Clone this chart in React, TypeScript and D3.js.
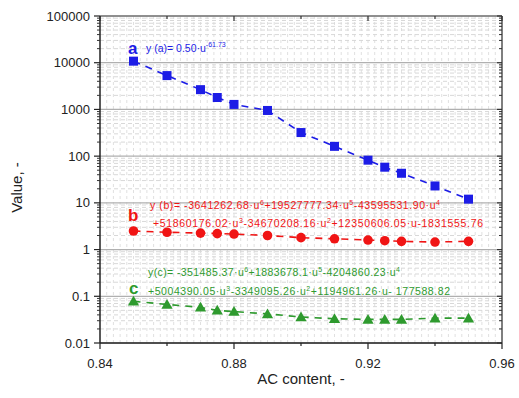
import React from "react";
import * as d3 from "d3";

const xValues = [0.85, 0.86, 0.87, 0.875, 0.88, 0.89, 0.9, 0.91, 0.92, 0.925, 0.93, 0.94, 0.95];
const seriesA = [10800, 5300, 2650, 1800, 1280, 950, 320, 162, 82, 58, 43, 23, 12];
const seriesB = [2.5, 2.35, 2.25, 2.2, 2.15, 2.0, 1.8, 1.7, 1.6, 1.55, 1.5, 1.45, 1.5];
const seriesC = [0.078, 0.067, 0.058, 0.05, 0.047, 0.042, 0.036, 0.033, 0.032, 0.032, 0.032, 0.034, 0.034];
const xTicks = [0.84, 0.88, 0.92, 0.96];
const xMinorTicks = [0.86, 0.9, 0.94];
const yTicks = [0.01, 0.1, 1, 10, 100, 1000, 10000, 100000];
const yTickLabels = ["0.01", "0.1", "1", "10", "100", "1000", "10000", "100000"];

const BLUE = "#1c1ce6";
const RED = "#f01414";
const GREEN = "#2e9a2e";

export default function App() {
  const W = 519, H = 398;
  const left = 100, right = 502, top = 16, bottom = 343;
  const x = d3.scaleLinear().domain([0.84, 0.96]).range([left, right]);
  const y = d3.scaleLog().domain([0.01, 100000]).range([bottom, top]);

  const minorY: number[] = [];
  for (let e = -2; e < 5; e++) {
    for (let k = 2; k <= 9; k++) minorY.push(k * Math.pow(10, e));
  }
  const vGrid: number[] = [];
  for (let i = 1; i < 60; i++) vGrid.push(0.84 + i * 0.002);

  const line = d3.line<[number, number]>().x((d) => x(d[0])).y((d) => y(d[1]));
  const pts = (s: number[]) => xValues.map((xv, i) => [xv, s[i]] as [number, number]);

  const tri = d3.symbol().type(d3.symbolTriangle).size(55)();

  const font = "Liberation Sans, Arial, sans-serif";
  const sup = (t: string) => <tspan dy={-4} fontSize={7}>{t}</tspan>;
  const base = (t: string) => <tspan dy={4}>{t}</tspan>;

  return (
    <svg width={W} height={H} style={{ position: "absolute", left: 0, top: 0, background: "#fff" }} fontFamily={font}>
      {/* grid */}
      {vGrid.map((v, i) => (
        <line key={"vg" + i} x1={x(v)} x2={x(v)} y1={top} y2={bottom} stroke="#e0e0e0" strokeWidth={1} strokeDasharray="3,3" />
      ))}
      {minorY.map((v, i) => (
        <line key={"mg" + i} x1={left} x2={right} y1={y(v)} y2={y(v)} stroke="#d8d8d8" strokeWidth={1} strokeDasharray="4,3" />
      ))}
      {yTicks.map((v, i) => (
        <line key={"g" + i} x1={left} x2={right} y1={y(v)} y2={y(v)} stroke="#b0b0b0" strokeWidth={1.2} />
      ))}

      {/* frame */}
      <line x1={left} x2={right} y1={top} y2={top} stroke="#777" strokeWidth={1.5} />
      <line x1={right} x2={right} y1={top} y2={bottom} stroke="#555" strokeWidth={1.5} />
      <line x1={left} x2={left} y1={top} y2={bottom} stroke="#222" strokeWidth={1.5} />
      <line x1={left} x2={right} y1={bottom} y2={bottom} stroke="#222" strokeWidth={1.5} />

      {/* y ticks */}
      {yTicks.map((v, i) => (
        <g key={"yt" + i}>
          <line x1={left - 6} x2={left} y1={y(v)} y2={y(v)} stroke="#222" strokeWidth={1.2} />
          <line x1={right} x2={right - 5} y1={y(v)} y2={y(v)} stroke="#333" strokeWidth={1.2} />
          <text x={left - 10} y={y(v)} dy="0.35em" textAnchor="end" fontSize={13} fill="#222">{yTickLabels[i]}</text>
        </g>
      ))}
      {minorY.map((v, i) => (
        <g key={"ymt" + i}>
          <line x1={left - 3} x2={left} y1={y(v)} y2={y(v)} stroke="#333" strokeWidth={1} />
          <line x1={right} x2={right - 3} y1={y(v)} y2={y(v)} stroke="#333" strokeWidth={1} />
        </g>
      ))}

      {/* x ticks */}
      {xTicks.map((v, i) => (
        <g key={"xt" + i}>
          <line x1={x(v)} x2={x(v)} y1={bottom} y2={bottom + 6} stroke="#222" strokeWidth={1.2} />
          <line x1={x(v)} x2={x(v)} y1={top} y2={top + 5} stroke="#333" strokeWidth={1.2} />
          <text x={x(v)} y={bottom + 20} dy="0.35em" textAnchor="middle" fontSize={13} fill="#222">{v.toFixed(2)}</text>
        </g>
      ))}
      {xMinorTicks.map((v, i) => (
        <g key={"xmt" + i}>
          <line x1={x(v)} x2={x(v)} y1={bottom} y2={bottom + 3} stroke="#222" strokeWidth={1.2} />
          <line x1={x(v)} x2={x(v)} y1={top} y2={top + 3} stroke="#333" strokeWidth={1.2} />
        </g>
      ))}

      {/* axis titles */}
      <text x={(left + right) / 2} y={384} textAnchor="middle" fontSize={15} fill="#222">AC content, -</text>
      <text transform={`translate(22, ${(top + bottom) / 2 + 8}) rotate(-90)`} textAnchor="middle" fontSize={15} fill="#222">Value, -</text>

      {/* series lines */}
      <path d={line(pts(seriesA)) || ""} fill="none" stroke={BLUE} strokeWidth={1.6} strokeDasharray="7,6" />
      <path d={line(pts(seriesB)) || ""} fill="none" stroke={RED} strokeWidth={1.6} strokeDasharray="7,6" />
      <path d={line(pts(seriesC)) || ""} fill="none" stroke={GREEN} strokeWidth={1.6} strokeDasharray="7,6" />

      {/* markers */}
      {pts(seriesA).map((d, i) => (
        <rect key={"a" + i} x={x(d[0]) - 4.5} y={y(d[1]) - 4.5} width={9} height={9} fill={BLUE} />
      ))}
      {pts(seriesB).map((d, i) => (
        <circle key={"b" + i} cx={x(d[0])} cy={y(d[1])} r={4.8} fill={RED} />
      ))}
      {pts(seriesC).map((d, i) => (
        <path key={"c" + i} d={tri || ""} transform={`translate(${x(d[0])},${y(d[1]) + 1})`} fill={GREEN} />
      ))}

      {/* annotations */}
      <text x={128} y={54} fontSize={17} fontWeight="bold" fill={BLUE}>a</text>
      <text x={146} y={52} fontSize={10.5} fill={BLUE}>
        y (a)= 0.50·u<tspan dy={-5} fontSize={7}>-61.73</tspan>
      </text>

      <text x={128} y={221} fontSize={17} fontWeight="bold" fill={RED}>b</text>
      <text x={150} y={209} fontSize={10.5} fill={RED} textLength={290} lengthAdjust="spacing">
        y (b)= -3641262.68·u{sup("6")}{base("+19527777.34·u")}{sup("5")}{base("-43595531.90·u")}{sup("4")}
      </text>
      <text x={153} y={227} fontSize={10.5} fill={RED} textLength={330} lengthAdjust="spacing">
        +51860176.02·u{sup("3")}{base("-34670208.16·u")}{sup("2")}{base("+12350606.05·u-1831555.76")}
      </text>

      <text x={129} y={294} fontSize={17} fontWeight="bold" fill={GREEN}>c</text>
      <text x={148} y={276} fontSize={10.5} fill={GREEN} textLength={252} lengthAdjust="spacing">
        y(c)= -351485.37·u{sup("6")}{base("+1883678.1·u")}{sup("5")}{base("-4204860.23·u")}{sup("4")}
      </text>
      <text x={148} y={295} fontSize={10.5} fill={GREEN} textLength={302} lengthAdjust="spacing">
        +5004390.05·u{sup("3")}{base("-3349095.26·u")}{sup("2")}{base("+1194961.26·u- 177588.82")}
      </text>
    </svg>
  );
}
